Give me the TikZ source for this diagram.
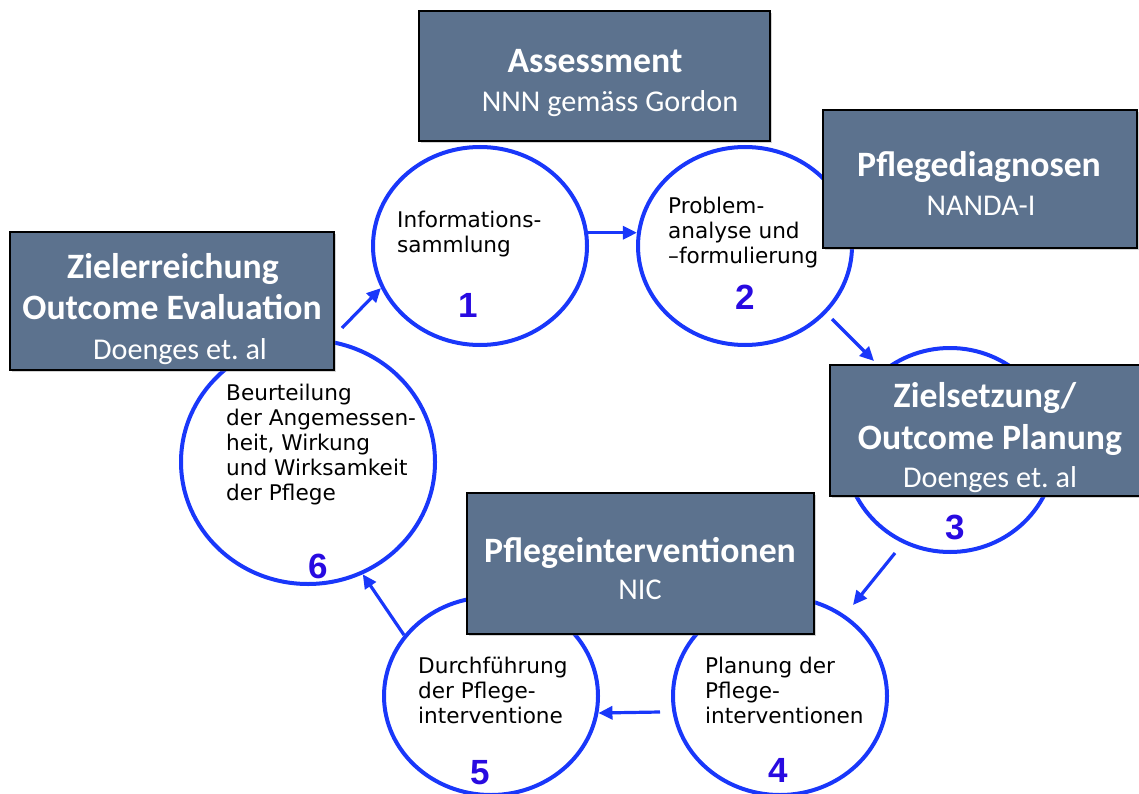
\documentclass[tikz,border=0pt]{standalone}
\usepackage{fontspec}
\usetikzlibrary{shapes.geometric,shadows,arrows.meta}
\newfontfamily\boxfont{Carlito}
\newfontfamily\circfont{DejaVu Sans}
\newfontfamily\numfont{Liberation Sans}
\definecolor{boxfill}{RGB}{92,114,142}
\definecolor{ringblue}{RGB}{25,55,250}
\definecolor{numblue}{RGB}{40,10,225}
\tikzset{
  ring/.style={ellipse, draw=ringblue, line width=4pt, inner sep=0pt},
  stage/.style={rectangle, draw=black, line width=2.8pt, fill=boxfill, inner sep=0pt,
    drop shadow={opacity=0.35, shadow xshift=2pt, shadow yshift=-2pt}},
  ttl/.style={anchor=base, text=white, font=\boxfont\bfseries\fontsize{35.7}{40}\selectfont, inner sep=0pt},
  sub/.style={anchor=base, text=white, font=\boxfont\fontsize{30.2}{34}\selectfont, inner sep=0pt},
  ctext/.style={anchor=base west, align=left, font=\circfont\fontsize{21.6}{25}\selectfont, inner sep=0pt},
  num/.style={text=numblue, font=\numfont\bfseries\fontsize{35}{40}\selectfont, inner sep=0pt},
  arr/.style={draw=ringblue, line width=3.2pt, -{Triangle[length=14pt,width=13pt]}},
}
\begin{document}
\frenchspacing
\begin{tikzpicture}[x=1pt,y=-1pt]
\useasboundingbox (0,0) rectangle (1139,794);
% circles
\node[ring, minimum width=214pt, minimum height=198pt] (c1) at (480,246) {};
\node[ring, minimum width=214pt, minimum height=198pt] (c2) at (745,246) {};
\node[ring, minimum width=210pt, minimum height=204pt] (c3) at (950,450) {};
\node[ring, minimum width=214pt, minimum height=198pt] (c4) at (780,696) {};
\node[ring, minimum width=214pt, minimum height=198pt] (c5) at (491,696) {};
\node[ring, minimum width=254pt, minimum height=244pt] (c6) at (308,462) {};
% free arrow ends
\coordinate (a23s) at (832,319);
\coordinate (a23e) at (874,361);
\coordinate (a34s) at (895,553);
\coordinate (a34e) at (853,605);
\coordinate (a45s) at (660,712);
\coordinate (a61s) at (342,328);
% arrows
\draw[arr] (c1.7) -- (c2.173);
\draw[arr] (a23s) -- (a23e);
\draw[arr] (a34s) -- (a34e);
\draw[arr] (a45s) -- (c5.-9);
\draw[arr] (c5.145) -- (c6.-64);
\draw[arr] (a61s) -- (c1.203);
% boxes
\node[stage, minimum width=351pt, minimum height=130pt] (bA) at (594.5,76) {};
\node[stage, minimum width=314pt, minimum height=138pt] (bP) at (980,179) {};
\node[stage, minimum width=324pt, minimum height=138pt] (bZ) at (172,301) {};
\node[stage, minimum width=316pt, minimum height=131pt] (bO) at (988,430.5) {};
\node[stage, minimum width=347pt, minimum height=141pt] (bI) at (640.5,563.5) {};
% box texts
\node[ttl] (tA) at (595,73) {Assessment};
\node[sub] (sA) at (610,112) {NNN gemäss Gordon};
\node[ttl] (tP) at (979,177) {Pflegediagnosen};
\node[sub] (sP) at (981,215) {NANDA-I};
\node[ttl] (tZ1) at (173,278) {Zielerreichung};
\node[ttl] (tZ2) at (172,319) {Outcome Evaluation};
\node[sub] (sZ) at (180,359) {Doenges et. al};
\node[ttl] (tO1) at (985,407) {Zielsetzung/};
\node[ttl] (tO2) at (990,449) {Outcome Planung};
\node[sub] (sO) at (990,487) {Doenges et. al};
\node[ttl] (tI) at (640,562) {Pflegeinterventionen};
\node[sub] (sI) at (640,599) {NIC};
% circle texts (anchor at baseline of last line)
\node[ctext] (x1) at (397,252) {Informations-\\sammlung};
\node[ctext] (x2) at (668,263) {Problem-\\analyse und\\–formulierung};
\node[ctext] (x4) at (705,723) {Planung der\\Pflege-\\interventionen};
\node[ctext] (x5) at (418,723) {Durchführung\\der Pflege-\\interventione};
\node[ctext] (x6) at (226,500) {Beurteilung\\der Angemessen-\\heit, Wirkung\\und Wirksamkeit\\der Pflege};
% numbers
\node[num] (n1) at (468,305) {1};
\node[num] (n2) at (745,297) {2};
\node[num] (n3) at (955,527) {3};
\node[num] (n4) at (778,770) {4};
\node[num] (n5) at (480,773) {5};
\node[num] (n6) at (318,566) {6};
\end{tikzpicture}
\end{document}
